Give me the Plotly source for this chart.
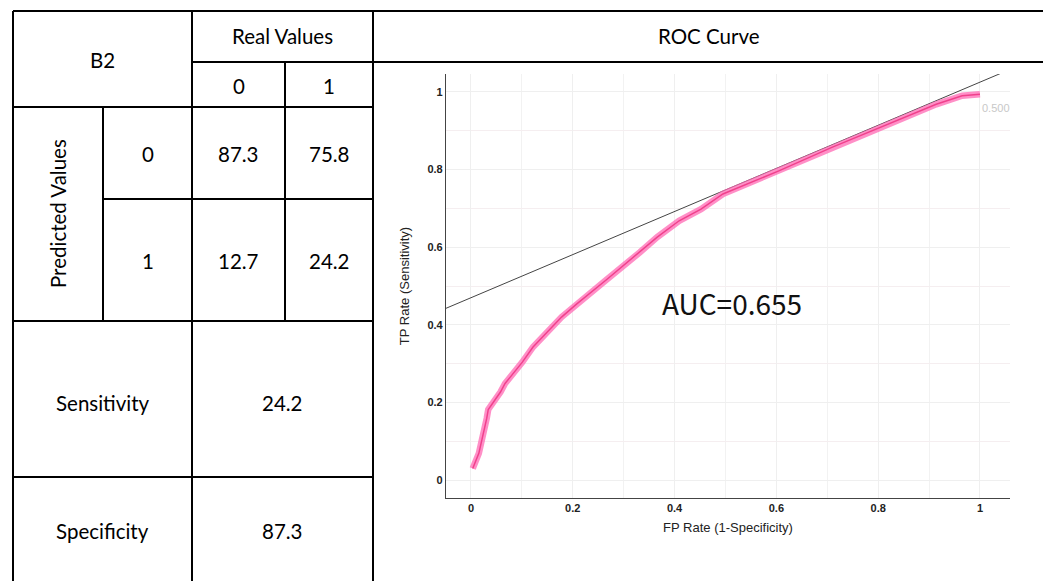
import plotly.graph_objects as go

# page body has an 8px margin; figure occupies the rest of the window
OFF = 8
W, H = 1051 - OFF, 581 - OFF

# ---------------- data ----------------
model_name = "B2"
real_labels = ["0", "1"]
pred_labels = ["0", "1"]
confusion = [[87.3, 75.8], [12.7, 24.2]]
sensitivity = 24.2
specificity = 87.3
auc = 0.655

fpr = [0.0035, 0.0155, 0.031, 0.034, 0.058, 0.067, 0.101, 0.122, 0.178, 0.208,
       0.268, 0.332, 0.366, 0.409, 0.452, 0.495, 0.606, 0.709, 0.828, 0.914,
       0.965, 1.0]
tpr = [0.030, 0.069, 0.159, 0.182, 0.227, 0.249, 0.304, 0.343, 0.420, 0.454,
       0.518, 0.587, 0.626, 0.668, 0.698, 0.737, 0.797, 0.857, 0.921, 0.968,
       0.990, 0.994]

ref_x = [-0.05, 1.045]
ref_y = [0.442, 1.050]

x_ticks = [0, 0.2, 0.4, 0.6, 0.8, 1]
y_ticks = [0, 0.2, 0.4, 0.6, 0.8, 1]


def px(x):
    return (x - OFF) / W


def py(y):
    return 1 - (y - OFF) / H


fig = go.Figure()

fig.add_trace(go.Scatter(x=ref_x, y=ref_y, mode="lines",
                         line=dict(color="#444444", width=1), hoverinfo="skip"))
fig.add_trace(go.Scatter(x=fpr, y=tpr, mode="lines",
                         line=dict(color="rgba(255,105,180,0.75)", width=6.5),
                         hoverinfo="skip"))
fig.add_trace(go.Scatter(x=fpr, y=tpr, mode="lines",
                         line=dict(color="#f0418c", width=1.5), hoverinfo="skip"))

TICKF = dict(family="Liberation Sans", size=11, color="#222", weight=600)
TITLEF = dict(family="Liberation Sans", size=13, color="#222")

fig.update_layout(
    width=W, height=H,
    margin=dict(l=0, r=0, t=0, b=0),
    paper_bgcolor="white", plot_bgcolor="white",
    showlegend=False,
    xaxis=dict(domain=[px(446), px(1010)], range=[-0.049, 1.059],
               tickvals=x_ticks, ticktext=[f"{v:g}" for v in x_ticks],
               showgrid=True, gridcolor="#efefef", gridwidth=1,
               showline=True, linecolor="#444", linewidth=1.2,
               zeroline=False, ticks="",
               tickfont=TICKF,
               title=dict(text="FP Rate (1-Specificity)", standoff=9, font=TITLEF)),
    yaxis=dict(domain=[py(498), py(74)], range=[-0.046, 1.046],
               tickvals=y_ticks, ticktext=[f"{v:g}" for v in y_ticks],
               showgrid=True, gridcolor="#efefef", gridwidth=1,
               showline=True, linecolor="#444", linewidth=1.2,
               zeroline=False, ticks="",
               tickfont=TICKF,
               title=dict(text="TP Rate (Sensitivity)", standoff=14, font=TITLEF)),
)

# minor gridlines at 0.1 steps
fig.update_xaxes(minor=dict(dtick=0.1, tick0=0, showgrid=True, gridcolor="#f2f2f2"))
fig.update_yaxes(minor=dict(dtick=0.1, tick0=0, showgrid=True, gridcolor="#f5eef0"))

# ---------------- table lines ----------------
LW = 2
lines = [
    # outer
    (13, 11, 1045, 11), (13, 11, 13, 600), (1045, 11, 1045, 600),
    # vertical
    (192, 11, 192, 600), (373, 11, 373, 600), (285, 62, 285, 321), (103, 107, 103, 321),
    # horizontal
    (192, 62, 1045, 62), (13, 107, 373, 107), (103, 199, 373, 199),
    (13, 321, 373, 321), (13, 477, 373, 477),
]
for x0, y0, x1, y1 in lines:
    fig.add_shape(type="line", xref="paper", yref="paper",
                  x0=px(x0), y0=py(y0), x1=px(x1), y1=py(y1),
                  line=dict(color="black", width=LW))

TF = dict(family="Lato", size=20.5, color="#000")


def txt(x, y, s, angle=0):
    fig.add_annotation(xref="paper", yref="paper", x=px(x), y=py(y), text=s,
                       showarrow=False, font=TF, textangle=angle,
                       xanchor="center", yanchor="middle")


txt(102.5, 60, model_name)
txt(282, 36, "Real Values")
txt(709, 36, "ROC Curve")
txt(238.5, 86, real_labels[0])
txt(329, 86, real_labels[1])
txt(58, 214, "Predicted Values", angle=-90)
txt(148, 154, pred_labels[0])
txt(148, 261, pred_labels[1])
txt(238.5, 154, f"{confusion[0][0]:.1f}")
txt(329, 154, f"{confusion[0][1]:.1f}")
txt(238.5, 261, f"{confusion[1][0]:.1f}")
txt(329, 261, f"{confusion[1][1]:.1f}")
txt(102.5, 403, "Sensitivity")
txt(282, 403, f"{sensitivity:.1f}")
txt(102.5, 531, "Specificity")
txt(282, 531, f"{specificity:.1f}")

# chart annotations
fig.add_annotation(x=0.512, y=0.457, xref="x", yref="y", text=f"AUC={auc:.3f}",
                   showarrow=False, font=dict(family="Noto Sans CJK JP", size=28, color="#111"))
fig.add_annotation(x=1.031, y=0.958, xref="x", yref="y", text="0.500",
                   showarrow=False, font=dict(family="Liberation Sans", size=11, color="#c8c8c8"))

fig.write_html("out.html")
